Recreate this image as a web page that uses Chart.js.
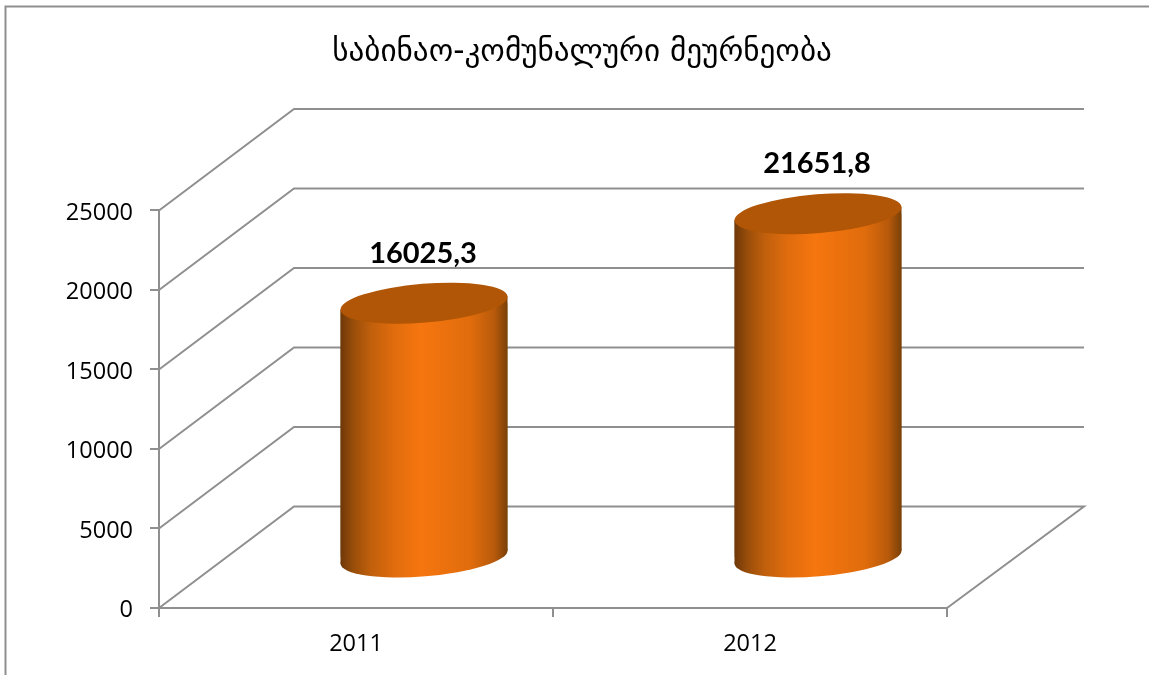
<!DOCTYPE html>
<html>
<head>
<meta charset="utf-8">
<style>html,body{margin:0;padding:0;background:#fff}canvas{display:block}</style>
<script src="https://cdn.jsdelivr.net/npm/chart.js@4/dist/chart.umd.min.js"></script>
</head>
<body>
<canvas id="c" width="1149" height="675"></canvas>
<script>
const titleText = 'საბინაო-კომუნალური მეურნეობა';
const categories = ['2011', '2012'];
const seriesValues = [16025.3, 21651.8];
const valueLabels = ['16025,3', '21651,8'];

const GREY = '#8f8f8f';
const DEPTH_X = 135, DEPTH_Y = -101.5;
const BAR_DX = 68, BAR_DY = -50;
const ELL_A = 83.8, ELL_B = 19.4, ELL_ROT = -4.7 * Math.PI / 180, ELL_SKEW = 6.5;

function barGradient(ctx, cx, w) {
  const g = ctx.createLinearGradient(cx - w / 2, 0, cx + w / 2, 0);
  g.addColorStop(0, '#6e3808');
  g.addColorStop(0.08, '#9a4e0a');
  g.addColorStop(0.18, '#c05f0c');
  g.addColorStop(0.32, '#e06c0d');
  g.addColorStop(0.48, '#f6760f');
  g.addColorStop(0.78, '#e06c0c');
  g.addColorStop(0.92, '#b85a0b');
  g.addColorStop(1, '#7a4008');
  return g;
}

const cylinderPlugin = {
  id: 'cylinder',
  beforeDraw(chart) {
    const { ctx, scales: { y } } = chart;
    if (!y._shifted) {
      const orig = y.drawLabels;
      y.drawLabels = function (area) {
        ctx.save();
        ctx.translate(0, 2.5);
        orig.call(this, area);
        ctx.restore();
      };
      y._shifted = true;
    }
    ctx.save();
    ctx.strokeStyle = GREY;
    ctx.lineWidth = 2;
    ctx.beginPath();
    ctx.moveTo(5.5, 675);
    ctx.lineTo(5.5, 6.5);
    ctx.lineTo(1149, 6.5);
    ctx.stroke();
    ctx.restore();
  },
  beforeDatasetsDraw(chart) {
    const { ctx, scales: { x, y } } = chart;
    ctx.save();
    ctx.strokeStyle = GREY;
    ctx.lineWidth = 2;
    y.ticks.forEach(t => {
      const py = y.getPixelForValue(t.value);
      ctx.beginPath();
      ctx.moveTo(x.left, py);
      ctx.lineTo(x.left + DEPTH_X, py + DEPTH_Y);
      ctx.lineTo(x.right + DEPTH_X + 2, py + DEPTH_Y);
      if (t.value === 0) ctx.lineTo(x.right, py);
      ctx.stroke();
    });
    ctx.restore();

    const meta = chart.getDatasetMeta(0);
    ctx.save();
    ctx.translate(BAR_DX, BAR_DY);
    const clip = new Path2D();
    meta.data.forEach(el => {
      const l = el.x - el.width / 2, r = el.x + el.width / 2;
      const side = new Path2D();
      side.moveTo(l, el.y + ELL_SKEW);
      side.lineTo(r, el.y - ELL_SKEW);
      side.lineTo(r, el.base - ELL_SKEW);
      side.lineTo(l, el.base + ELL_SKEW);
      side.closePath();
      clip.addPath(side);
      ctx.fillStyle = barGradient(ctx, el.x, el.width);
      ctx.fill(side);
      ctx.beginPath();
      ctx.ellipse(el.x, el.base, ELL_A, ELL_B, ELL_ROT, 0, Math.PI * 2);
      ctx.fill();
    });
    ctx.clip(clip);
  },
  afterDatasetsDraw(chart) {
    const { ctx } = chart;
    ctx.restore();
    const meta = chart.getDatasetMeta(0);
    ctx.save();
    ctx.translate(BAR_DX, BAR_DY);
    meta.data.forEach((el, i) => {
      ctx.beginPath();
      ctx.ellipse(el.x, el.y, ELL_A, ELL_B, ELL_ROT, 0, Math.PI * 2);
      ctx.fillStyle = '#b05606';
      ctx.fill();
      ctx.fillStyle = '#000';
      ctx.font = 'bold 29px Lato';
      ctx.textAlign = 'center';
      ctx.textBaseline = 'middle';
      ctx.fillText(valueLabels[i], el.x - 1, el.y - 50);
    });
    ctx.restore();
  }
};

new Chart(document.getElementById('c'), {
  type: 'bar',
  plugins: [cylinderPlugin],
  data: {
    labels: categories,
    datasets: [{
      data: seriesValues,
      barPercentage: 0.424,
      categoryPercentage: 1,
      borderWidth: 0,
      backgroundColor(c) {
        const x = c.chart.scales.x;
        if (!x || c.dataIndex === undefined) return '#f6760f';
        const w = (x.right - x.left) / categories.length * 0.424;
        const cx = x.getPixelForValue(c.dataIndex);
        if (!isFinite(cx) || !isFinite(w) || w <= 0) return '#f6760f';
        return barGradient(c.chart.ctx, cx, w);
      }
    }]
  },
  options: {
    responsive: false,
    animation: false,
    layout: { padding: { left: 15, right: 0, top: 0, bottom: 0 } },
    plugins: {
      legend: { display: false },
      tooltip: { enabled: false },
      title: {
        display: true,
        text: titleText,
        color: '#000',
        font: { family: 'DejaVu Sans', size: 31.2, weight: 'normal', lineHeight: 1.2 },
        padding: { top: 34, bottom: 139 }
      }
    },
    scales: {
      x: {
        offset: true,
        grid: { drawOnChartArea: false, drawTicks: true, tickLength: 9, color: GREY, lineWidth: 2 },
        border: { color: GREY, width: 2 },
        ticks: { color: '#000', padding: 13, maxRotation: 0, font: { family: 'Open Sans', size: 23.5 } },
        afterFit(s) { s.height = 67; }
      },
      y: {
        min: 0,
        max: 25000,
        grid: { drawOnChartArea: false, drawTicks: true, tickLength: 9, color: GREY, lineWidth: 2 },
        border: { color: GREY, width: 2 },
        ticks: { stepSize: 5000, color: '#000', padding: 17, callback: v => String(v), font: { family: 'Open Sans', size: 23.5 } },
        afterFit(s) { s.width = 144; }
      },
      yR: {
        position: 'right',
        display: true,
        grid: { display: false },
        border: { display: false },
        ticks: { display: false },
        afterFit(s) { s.width = 202; }
      }
    }
  }
});
</script>
</body>
</html>
